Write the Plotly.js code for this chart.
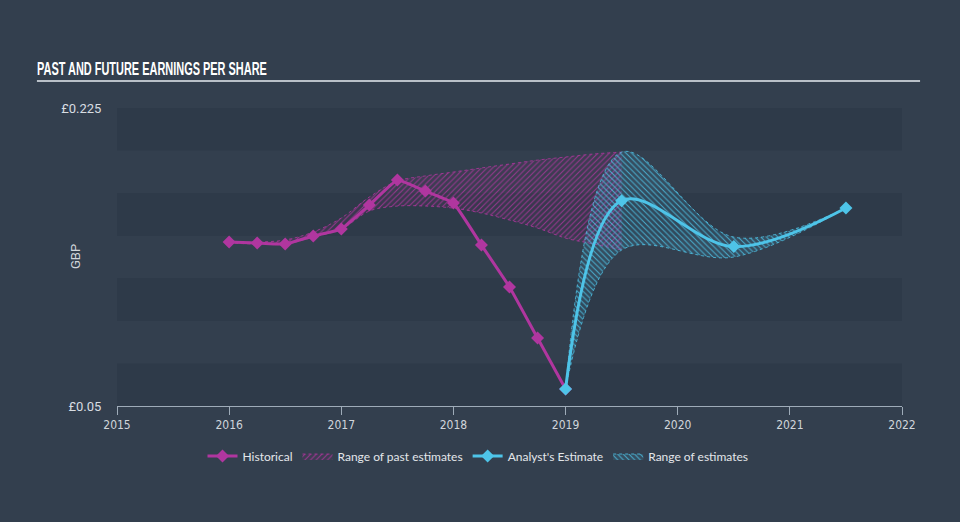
<!DOCTYPE html>
<html>
<head>
<meta charset="utf-8">
<script src="https://cdn.plot.ly/plotly-3.0.1.min.js"></script>
<style>
html,body{margin:0;padding:0;background:#333f4e;}
#chart{width:960px;height:522px;}
</style>
</head>
<body>
<div id="chart"></div>
<script>
// ---- data ----
const histX = [2016.0, 2016.25, 2016.5, 2016.75, 2017.0, 2017.25, 2017.5, 2017.75, 2018.0, 2018.25, 2018.5, 2018.75, 2019.0];
const histY = [0.1463, 0.1457, 0.1451, 0.1498, 0.1539, 0.1680, 0.1827, 0.1762, 0.1692, 0.1445, 0.1199, 0.0899, 0.0600];

const pastRangeX = [2016.0, 2016.25, 2016.5, 2016.75, 2017.0, 2017.25, 2017.5, 2017.75, 2018.0, 2018.25, 2018.5, 2018.75, 2019.0, 2019.25, 2019.5];
const pastHigh   = [0.1463, 0.1463, 0.1475, 0.1522, 0.1604, 0.1727, 0.1821, 0.1851, 0.1874, 0.1898, 0.1921, 0.1944, 0.1962, 0.1980, 0.1991];
const pastLow    = [0.1457, 0.1451, 0.1451, 0.1492, 0.1539, 0.1645, 0.1674, 0.1674, 0.1662, 0.1633, 0.1592, 0.1545, 0.1486, 0.1451, 0.1416];

const estX = [2019.0, 2019.5, 2020.5, 2021.5];
const estY = [0.0600, 0.1706, 0.1436, 0.1663];
const estHigh = [0.0600, 0.1991, 0.1492, 0.1663];
const estLow  = [0.0600, 0.1416, 0.1375, 0.1663];

const yearTicks = [2015, 2016, 2017, 2018, 2019, 2020, 2021, 2022];
const yTickVals = [0.05, 0.225];
const yTickText = ['£0.05', '£0.225'];
const bandEdges = [0.05, 0.075, 0.10, 0.125, 0.15, 0.175, 0.20, 0.225];

// ---- styles ----
const MAG = '#b0369f';
const BLUE = '#4ec4e8';

const traces = [
  {x: pastRangeX, y: pastLow, type: 'scatter', mode: 'lines',
   line: {color: 'rgba(176,54,159,0.8)', width: 1, dash: 'dot', shape: 'spline'},
   showlegend: false, hoverinfo: 'skip'},
  {x: pastRangeX, y: pastHigh, type: 'scatter', mode: 'lines', name: 'Range of past estimates',
   line: {color: 'rgba(176,54,159,0.8)', width: 1, dash: 'dot', shape: 'spline'},
   fill: 'tonexty', fillcolor: 'rgba(0,0,0,0)',
   fillpattern: {shape: '/', fgcolor: 'rgba(176,54,159,0.8)', bgcolor: 'rgba(120,40,110,0.14)', size: 4, solidity: 0.25},
   legendrank: 2},
  {x: estX, y: estLow, type: 'scatter', mode: 'lines',
   line: {color: 'rgba(78,196,232,0.8)', width: 1, dash: 'dot', shape: 'spline'},
   showlegend: false, hoverinfo: 'skip'},
  {x: estX, y: estHigh, type: 'scatter', mode: 'lines', name: 'Range of estimates',
   line: {color: 'rgba(78,196,232,0.8)', width: 1, dash: 'dot', shape: 'spline'},
   fill: 'tonexty', fillcolor: 'rgba(0,0,0,0)',
   fillpattern: {shape: '\\', fgcolor: 'rgba(78,196,232,0.8)', bgcolor: 'rgba(60,150,190,0.16)', size: 4, solidity: 0.25},
   legendrank: 4},
  {x: histX, y: histY, type: 'scatter', mode: 'lines+markers', name: 'Historical',
   line: {color: MAG, width: 3, shape: 'spline', smoothing: 0.3},
   marker: {symbol: 'diamond', size: 10, color: MAG},
   legendrank: 1},
  {x: estX, y: estY, type: 'scatter', mode: 'lines+markers', name: "Analyst's Estimate",
   line: {color: BLUE, width: 3, shape: 'spline', smoothing: 1},
   marker: {symbol: 'diamond', size: 10, color: BLUE},
   legendrank: 3}
];

const shapes = [];
for (let i = 0; i < bandEdges.length - 1; i += 2) {
  shapes.push({type: 'rect', layer: 'below', xref: 'paper', yref: 'y',
    x0: 0, x1: 1, y0: bandEdges[i], y1: bandEdges[i + 1],
    fillcolor: '#2e3a49', line: {width: 0}});
}
shapes.push({type: 'line', xref: 'paper', yref: 'paper',
  x0: -0.102, x1: 1.023, y0: 1.0906, y1: 1.0906,
  line: {color: '#b9c0c8', width: 2}});

const layout = {
  width: 960, height: 522,
  paper_bgcolor: '#333f4e',
  plot_bgcolor: '#333f4e',
  margin: {l: 117, r: 58, t: 108, b: 116},
  title: {text: 'PAST AND FUTURE EARNINGS PER SHARE',
    font: {family: 'Liberation Sans, Arial, sans-serif', size: 19, color: '#ffffff', weight: 700},
    x: 37 / 960, xanchor: 'left', xref: 'container',
    y: 1 - 68 / 522, yanchor: 'middle', yref: 'container'},
  xaxis: {range: [2015, 2022], tickvals: yearTicks, ticktext: yearTicks.map(String),
    showgrid: false, zeroline: false, showline: true, linecolor: '#9eabb8', linewidth: 1,
    ticks: 'outside', ticklen: 8, tickcolor: '#9eabb8', tickwidth: 1,
    tickfont: {family: 'Liberation Sans Narrow, DejaVu Sans Condensed, sans-serif', size: 12, color: '#d0d5db'},
    fixedrange: true},
  yaxis: {range: [0.05, 0.225], tickvals: yTickVals, ticktext: yTickText,
    showgrid: false, zeroline: false, showline: false,
    ticks: 'outside', ticklen: 12, tickcolor: 'rgba(0,0,0,0)',
    tickfont: {family: 'Roboto, sans-serif', size: 13, color: '#d8dde2'},
    fixedrange: true},
  annotations: [{text: 'GBP', xref: 'paper', yref: 'paper', x: (75 - 117) / 785, y: 0.5,
    xanchor: 'center', yanchor: 'middle',
    textangle: -90, showarrow: false, font: {family: 'Roboto, sans-serif', size: 13, color: '#d0d5db'}}],
  shapes: shapes,
  showlegend: true,
  legend: {orientation: 'h', xref: 'container', yref: 'container', traceorder: 'normal',
    x: 478 / 960, xanchor: 'center', y: 1 - 456 / 522, yanchor: 'middle',
    font: {family: 'Lato, sans-serif', size: 12, color: '#e3e6ea'},
    bgcolor: 'rgba(0,0,0,0)', itemwidth: 30, tracegroupgap: 0},
  hovermode: false
};

Plotly.newPlot('chart', traces, layout, {displayModeBar: false, staticPlot: true}).then(function (gd) {
  // condense the title horizontally to match the narrow display face of the original
  const t = gd.querySelector('.gtitle');
  if (t) {
    const bb = t.getBBox();
    const target = 230;
    const sx = target / bb.width;
    const x0 = bb.x;
    t.setAttribute('transform', 'translate(' + x0 + ',0) scale(' + sx + ',1) translate(' + (-x0) + ',0)');
  }
});
</script>
</body>
</html>
